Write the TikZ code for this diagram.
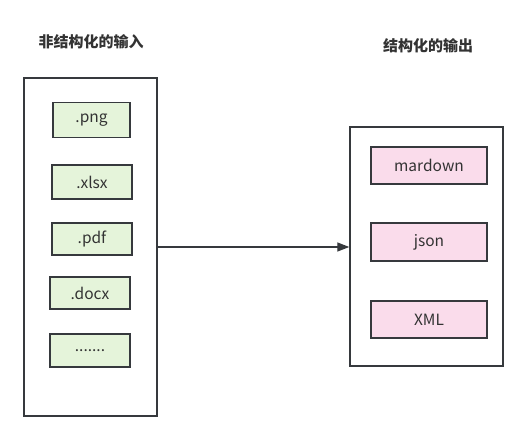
\documentclass[tikz,border=0pt]{standalone}
\usepackage{fontspec}
\setmainfont{Noto Sans CJK SC}
\usetikzlibrary{arrows.meta}
\definecolor{edge}{HTML}{36393D}
\definecolor{gfill}{HTML}{E5F4DA}
\definecolor{pfill}{HTML}{FADCEB}
\definecolor{txt}{HTML}{333333}
\tikzset{
  outer/.style={draw=edge, line width=1.4pt, fill=white, inner sep=0pt},
  inbox/.style={draw=edge, line width=1.7pt, inner sep=0pt, font=\fontsize{15.5}{18}\selectfont, text=txt},
  gbox/.style={inbox, fill=gfill},
  pbox/.style={inbox, fill=pfill},
  title/.style={font=\fontsize{15}{18}\selectfont\bfseries, text=txt},
  conn/.style={draw=edge, line width=1.3pt, -{Triangle[length=12pt,width=9pt]}}
}
\begin{document}
\begin{tikzpicture}[x=1pt,y=-1pt]
\useasboundingbox (0,0) rectangle (528,447);
\node[title] (t1) at (91,42) {非结构化的输入};
\node[title] (t2) at (428,46) {结构化的输出};
\node[outer, minimum width=133pt, minimum height=338pt] (L) at (90.5,247) {};
\node[outer, minimum width=153pt, minimum height=239pt] (R) at (426.5,246.5) {};
\node[gbox, minimum width=77pt, minimum height=35pt] (png) at (91.5,120) {.png};
\node[gbox, minimum width=80pt, minimum height=34pt] (xlsx) at (92,182) {.xlsx};
\node[gbox, minimum width=80pt, minimum height=32pt] (pdf) at (92,239) {.pdf};
\node[gbox, minimum width=80pt, minimum height=32pt] (docx) at (90,293) {.docx};
\node[gbox, minimum width=80pt, minimum height=33pt] (dots) at (90,350.5) {.......};
\node[pbox, minimum width=116pt, minimum height=37pt] (md) at (429,165.5) {mardown};
\node[pbox, minimum width=116pt, minimum height=38pt] (json) at (429,242) {json};
\node[pbox, minimum width=116pt, minimum height=37pt] (xml) at (429,319.5) {XML};
\draw[conn] (L.east |- 0,247) -- (R.west |- 0,247);
\end{tikzpicture}
\end{document}
